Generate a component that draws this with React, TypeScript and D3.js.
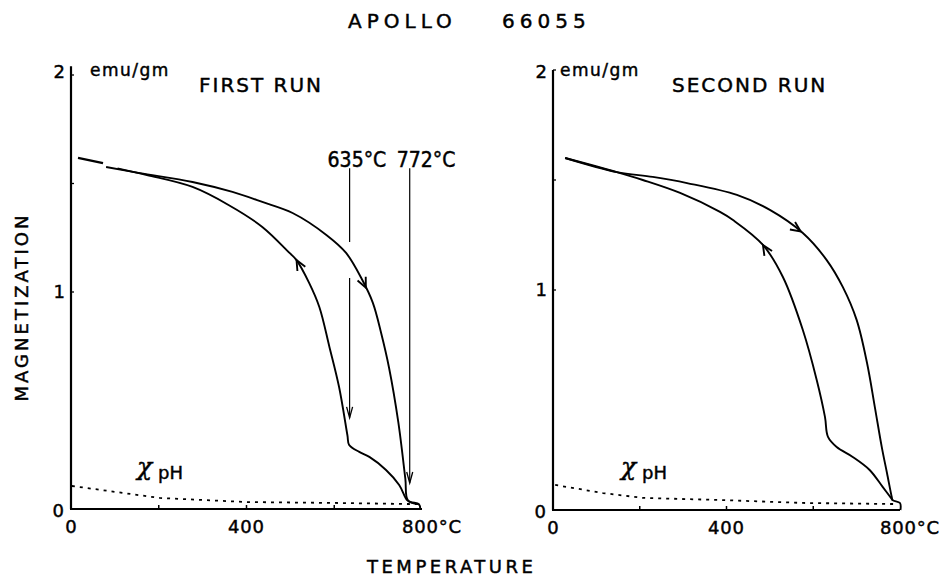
import React from 'react';
import * as d3 from 'd3';

type Pt = [number, number];

// [temperature °C, magnetization emu/gm]
const run1Start: Pt[] = [[16, 1.618], [73, 1.594]];
const run1Heating: Pt[] = [
  [80, 1.576], [157, 1.548], [277, 1.507], [368, 1.461], [436, 1.415], [505, 1.364],
  [582, 1.263], [627, 1.18], [664, 1.055], [688, 0.95], [707, 0.81], [725, 0.65],
  [746, 0.4], [762, 0.14], [768, 0.04], [793, 0.022], [796, 0.0],
];
const run1Cooling: Pt[] = [
  [793, 0.022], [777, 0.028], [766, 0.041], [748, 0.111], [718, 0.18], [680, 0.24],
  [657, 0.263], [634, 0.295], [630, 0.34], [611, 0.562], [589, 0.747], [566, 0.931],
  [543, 1.041], [514, 1.147], [498, 1.18], [436, 1.3], [360, 1.4],
  [277, 1.484], [173, 1.539], [106, 1.57],
];
const run1Chi: Pt[] = [[2, 0.106], [202, 0.051], [400, 0.032], [597, 0.028], [770, 0.023], [795, 0.022]];

const run2Heating: Pt[] = [
  [28, 1.6], [147, 1.536], [230, 1.514], [309, 1.486], [424, 1.432], [500, 1.364],
  [576, 1.259], [631, 1.136], [668, 1.014], [700, 0.864], [724, 0.668], [742, 0.468],
  [758, 0.286], [770, 0.168], [781, 0.059], [783, 0.045], [800, 0.032], [801, 0.0],
];
const run2Cooling: Pt[] = [
  [783, 0.045], [760, 0.105], [730, 0.182], [691, 0.241], [654, 0.286], [634, 0.332],
  [627, 0.423], [608, 0.591], [576, 0.818], [530, 1.059], [484, 1.205],
  [415, 1.318], [385, 1.355], [293, 1.441], [207, 1.5], [147, 1.536], [28, 1.6],
];
const run2Chi: Pt[] = [[5, 0.114], [115, 0.077], [207, 0.055], [392, 0.045], [576, 0.032], [793, 0.027]];

// direction arrows: temperature where each arrowhead sits
const run1ArrowTemps = { heating: 672, cooling: 514 };
const run2ArrowTemps = { heating: 571, cooling: 484 };

const tempLabels = [0, 400, 800];
const tempTicks = [200, 400, 600];
const magLabels = [0, 1, 2];
const magTicks = [1, 1.5, 2];

const curieTemps = [635, 772];
const curieNames = ['635°C', '772°C'];
const curieTop = 1.57;
const curieTips = [0.42, 0.12];
const curieGap = [1.23, 1.065]; // where the 635 line breaks around the curve

const FONT = "'DejaVu Sans', sans-serif";
const NARROW = "'Liberation Sans Narrow', 'DejaVu Sans Condensed', sans-serif";
const ink = { fill: '#000', stroke: '#000', strokeWidth: 0.45 };

const panels = [
  { xRange: [71, 422], yRange: [509, 75], axisTop: 2.04, emuX: 90, runX: 199, runLabel: 'FIRST RUN', chiX: 137, twoDy: 3 },
  { xRange: [553, 900], yRange: [510, 70], axisTop: 2.0, emuX: 560, runX: 672, runLabel: 'SECOND RUN', chiX: 621, twoDy: 8 },
];

function chevron(px: Pt[], t: number, temps: number[], len = 10, half = 4.5) {
  let i = 0;
  for (; i < temps.length - 2; i++) {
    const a = temps[i], b = temps[i + 1];
    if (t >= Math.min(a, b) && t <= Math.max(a, b)) break;
  }
  const f = (t - temps[i]) / (temps[i + 1] - temps[i]);
  const [x0, y0] = px[i];
  const [x1, y1] = px[i + 1];
  const tip: Pt = [x0 + (x1 - x0) * f, y0 + (y1 - y0) * f];
  const L = Math.hypot(x1 - x0, y1 - y0) || 1;
  const dx = (x1 - x0) / L, dy = (y1 - y0) / L;
  const bx = tip[0] - dx * len, by = tip[1] - dy * len;
  return `M${bx - dy * half},${by + dx * half}L${tip[0]},${tip[1]}L${bx + dy * half},${by - dx * half}`;
}

function Panel({ idx, heating, cooling, start, chi, arrows, showCurie }: any) {
  const cfg = panels[idx];
  const x = d3.scaleLinear().domain([0, 800]).range(cfg.xRange);
  const y = d3.scaleLinear().domain([0, 2]).range(cfg.yRange);
  const line = d3.line<Pt>().x(d => x(d[0])).y(d => y(d[1])).curve(d3.curveCatmullRom.alpha(0.5));
  const lin = d3.line<Pt>().x(d => x(d[0])).y(d => y(d[1]));
  const toPx = (a: Pt[]) => a.map(d => [x(d[0]), y(d[1])] as Pt);

  const heatArrow = chevron(toPx(heating), arrows.heating, heating.map((d: Pt) => d[0]));
  const coolArrow = chevron(toPx(cooling), arrows.cooling, cooling.map((d: Pt) => d[0]));

  return (
    <g>
      {/* axes */}
      <line x1={x(0)} x2={x(0)} y1={y(0)} y2={y(cfg.axisTop)} stroke="#000" strokeWidth={2.2} />
      <line x1={x(0) - 1} x2={x(800)} y1={y(0)} y2={y(0)} stroke="#000" strokeWidth={2.2} />
      {tempTicks.map(t => (
        <line key={t} x1={x(t)} x2={x(t)} y1={y(0)} y2={y(0) - 4} stroke="#000" strokeWidth={1.5} />
      ))}
      {magTicks.map(m => (
        <line key={m} x1={x(0)} x2={x(0) + 3} y1={y(m)} y2={y(m)} stroke="#000" strokeWidth={1.3} />
      ))}
      {magLabels.map(m => (
        <text key={m} x={x(0) - (m === 0 ? 7 : 6)} y={m === 2 ? y(m) + cfg.twoDy : y(m) + (m === 0 ? 8 : 6)}
          textAnchor="end" fontSize={18} fontFamily={FONT} {...ink}>{m}</text>
      ))}
      {tempLabels.map(t => (
        <text key={t} x={x(t)} y={y(0) + 24} textAnchor={t === 800 ? 'start' : 'middle'} dx={t === 800 ? -20 : 0}
          fontSize={18} fontFamily={FONT} letterSpacing={t === 0 ? 0 : 0.8} {...ink}>
          {t === 800 ? '800°C' : t}
        </text>
      ))}
      <text x={cfg.emuX} y={76} fontSize={17} fontFamily={FONT} letterSpacing={1.5} {...ink}>emu/gm</text>
      <text x={cfg.runX} y={92} fontSize={20} fontFamily={FONT} letterSpacing={2} {...ink}>{cfg.runLabel}</text>

      {/* susceptibility */}
      <path d={lin(chi) || ''} fill="none" stroke="#000" strokeWidth={1.8} strokeDasharray="3 5" />
      <text x={cfg.chiX} y={475} fontSize={25} fontStyle="italic" fontFamily="'DejaVu Serif', serif" {...ink}>χ</text>
      <text x={cfg.chiX + 21} y={479} fontSize={18} fontFamily={FONT} {...ink}>pH</text>

      {/* thermomagnetic curves */}
      {start && <path d={lin(start) || ''} fill="none" stroke="#000" strokeWidth={2.4} />}
      <path d={line(heating) || ''} fill="none" stroke="#000" strokeWidth={1.9} />
      <path d={line(cooling) || ''} fill="none" stroke="#000" strokeWidth={1.9} />
      <path d={heatArrow} fill="none" stroke="#000" strokeWidth={1.9} />
      <path d={coolArrow} fill="none" stroke="#000" strokeWidth={1.9} />

      {showCurie && curieTemps.map((t, i) => {
        const segs: [number, number][] = i === 0
          ? [[curieTop, curieGap[0]], [curieGap[1], curieTips[i]]]
          : [[curieTop, curieTips[i]]];
        const tx = x(t), ty = y(curieTips[i]);
        return (
          <g key={t}>
            {segs.map((s, j) => (
              <line key={j} x1={tx} x2={tx} y1={y(s[0])} y2={y(s[1])} stroke="#000" strokeWidth={1.2} />
            ))}
            <path d={`M${tx - 3},${ty - 11}L${tx},${ty}L${tx + 3},${ty - 11}`} fill="none" stroke="#000" strokeWidth={1.3} />
            <text x={i === 0 ? tx - 22 : tx - 13} y={167} fontSize={21} fontFamily={NARROW} {...ink}>{curieNames[i]}</text>
          </g>
        );
      })}
    </g>
  );
}

export default function App() {
  return (
    <svg width={943} height={580} style={{ position: 'absolute', left: 0, top: 0, background: '#fff' }}>
      <text x={348} y={28} fontSize={20} fontFamily={FONT} letterSpacing={5} {...ink}>APOLLO</text>
      <text x={502} y={28} fontSize={20} fontFamily={FONT} letterSpacing={5} {...ink}>66055</text>
      <text transform="translate(28,307) rotate(-90)" textAnchor="middle" fontSize={18} fontFamily={FONT} letterSpacing={3} {...ink}>MAGNETIZATION</text>
      <text x={367} y={573} fontSize={18} fontFamily={FONT} letterSpacing={3.5} {...ink}>TEMPERATURE</text>
      <Panel idx={0} heating={run1Heating} cooling={run1Cooling} start={run1Start} chi={run1Chi} arrows={run1ArrowTemps} showCurie />
      <Panel idx={1} heating={run2Heating} cooling={run2Cooling} chi={run2Chi} arrows={run2ArrowTemps} />
    </svg>
  );
}
